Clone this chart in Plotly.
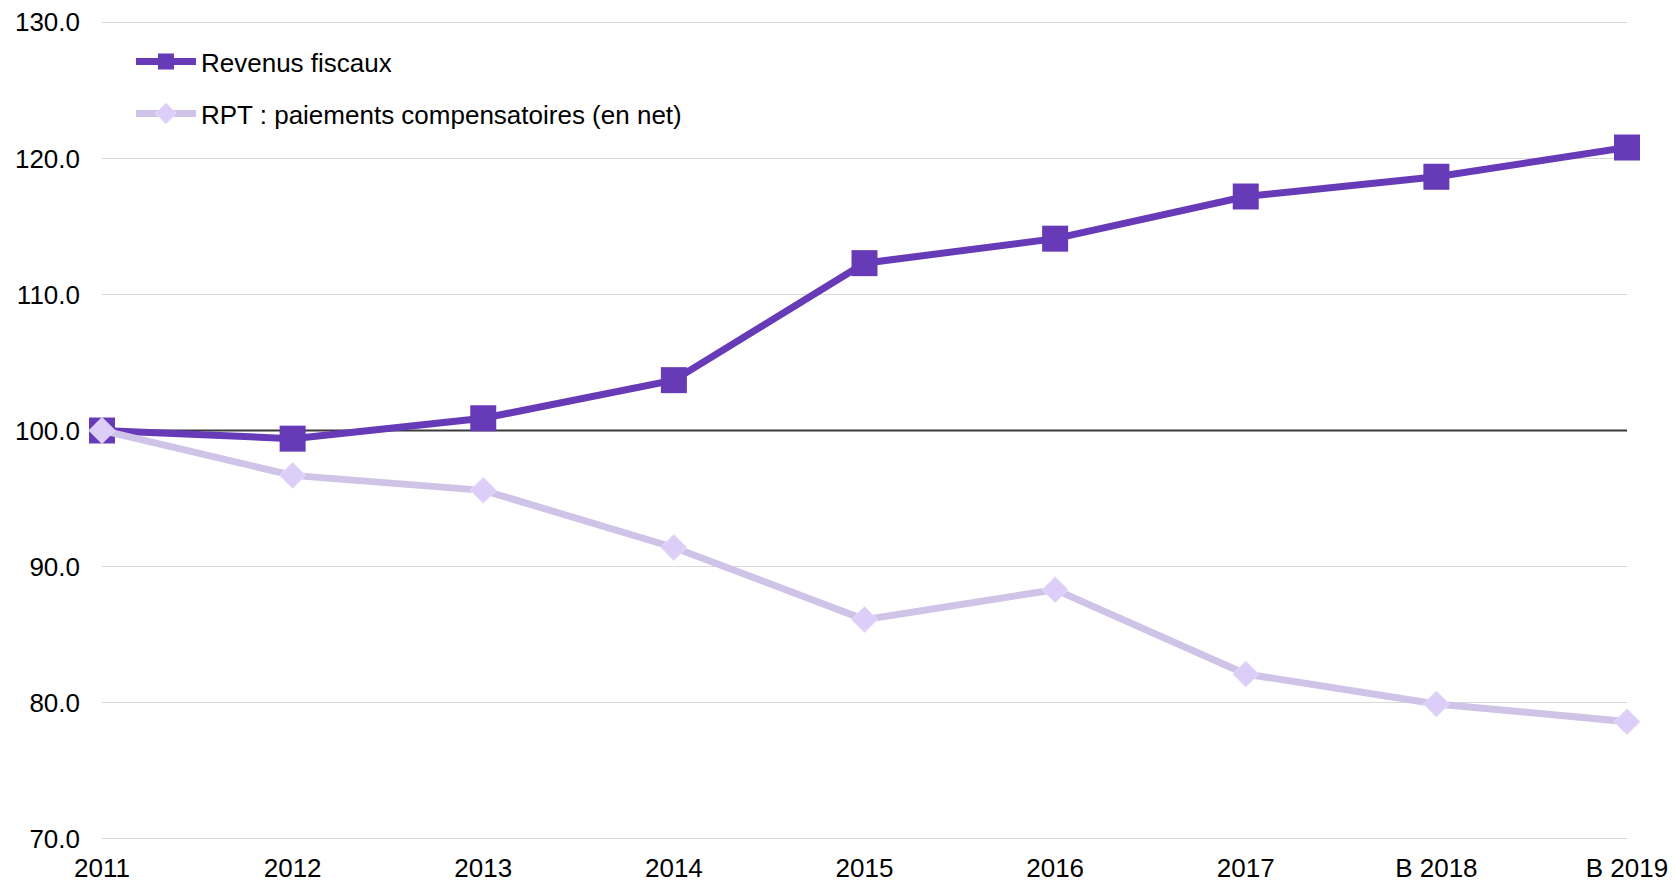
import plotly.graph_objects as go

years = ["2011", "2012", "2013", "2014", "2015", "2016", "2017", "B 2018", "B 2019"]
revenus_fiscaux = [100.0, 99.4, 100.9, 103.7, 112.3, 114.1, 117.2, 118.65, 120.8]
rpt_paiements = [100.0, 96.7, 95.6, 91.4, 86.1, 88.3, 82.1, 79.9, 78.6]
baseline = 100.0

PURPLE = "#673AB7"
LAVENDER_LINE = "#D0C3E8"
LAVENDER_MARK = "#DCCEF8"
FONT = "Liberation Sans, Arial, sans-serif"

fig = go.Figure()
# reference line at the index base (2011 = 100)
fig.add_trace(go.Scatter(
    x=[years[0], years[-1]], y=[baseline, baseline], mode="lines",
    line=dict(color="#3A3A3A", width=2), showlegend=False, hoverinfo="skip",
    cliponaxis=False,
))
fig.add_trace(go.Scatter(
    x=years, y=revenus_fiscaux, name="Revenus fiscaux",
    mode="lines+markers", legendgroup="a", cliponaxis=False,
    line=dict(color=PURPLE, width=7),
    marker=dict(symbol="square", size=26, color=PURPLE),
))
fig.add_trace(go.Scatter(
    x=years, y=rpt_paiements, name="RPT : paiements compensatoires (en net)",
    mode="lines+markers", legendgroup="b", cliponaxis=False,
    line=dict(color=LAVENDER_LINE, width=7),
    marker=dict(symbol="diamond", size=20, color=LAVENDER_MARK,
                line=dict(color="#E8E0FB", width=1)),
))

fig.update_layout(
    width=1675, height=883,
    margin=dict(l=102, r=48, t=21, b=43),
    plot_bgcolor="white", paper_bgcolor="white",
    font=dict(family=FONT, size=26, color="#000000"),
    showlegend=True,
    legend=dict(x=0.019, y=0.979, xanchor="left", yanchor="top",
                bgcolor="rgba(0,0,0,0)", tracegroupgap=15,
                itemwidth=60, font=dict(size=26)),
    xaxis=dict(type="category", categoryorder="array", categoryarray=years,
               range=[0, 8], showgrid=False, automargin=False,
               showline=False, ticks="", ticklabelstandoff=10),
    yaxis=dict(range=[69.9, 130.1], tickvals=[70, 80, 90, 100, 110, 120, 130],
               tickformat=".1f", automargin=False,
               showgrid=True, gridcolor="#D9D9D9", gridwidth=1.2,
               zeroline=False, showline=False, ticks="",
               ticklabelstandoff=21),
)

fig.write_html("out.html", config={"displayModeBar": False},
               post_script="document.body.style.margin='0';")
